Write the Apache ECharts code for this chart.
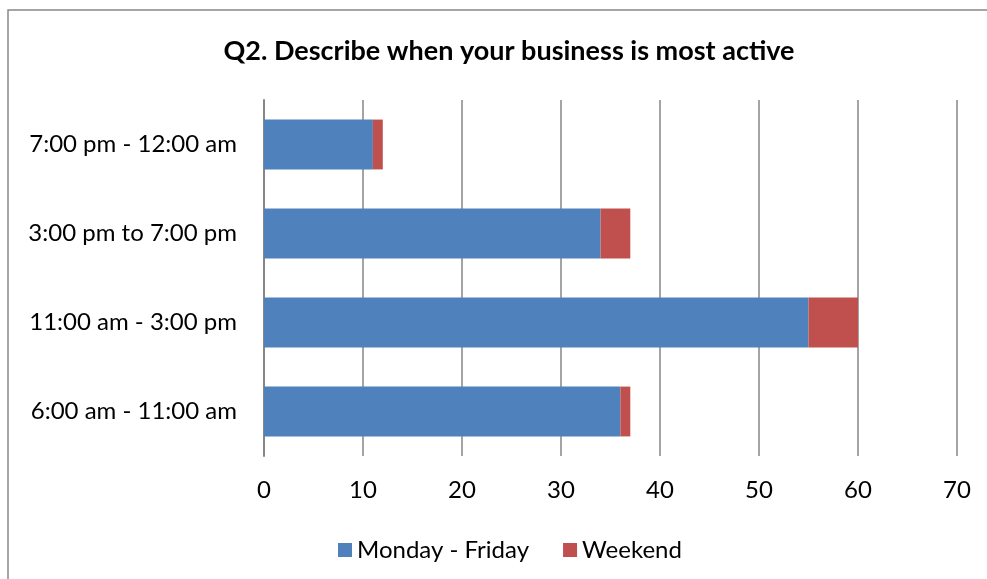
<!DOCTYPE html>
<html>
<head>
<meta charset="utf-8">
<script src="https://cdn.jsdelivr.net/npm/echarts@6/dist/echarts.min.js"></script>
<style>
  html, body { margin: 0; padding: 0; background: #fff; }
  #chart { width: 987px; height: 579px; }
</style>
</head>
<body>
<div id="chart"></div>
<script>
const categories = ['6:00 am - 11:00 am', '11:00 am - 3:00 pm', '3:00 pm to 7:00 pm', '7:00 pm - 12:00 am']
const weekdays = [36, 55, 34, 11]
const weekend = [1, 5, 3, 1]
const xTicks = [0, 10, 20, 30, 40, 50, 60, 70]

const font = 'Lato, "Open Sans", sans-serif'
const gridGray = '#868686'

let myChart = echarts.init(document.getElementById('chart'))
myChart.setOption({
  animation: false,
  textStyle: { fontFamily: font },
  graphic: [
    {
      type: 'rect',
      shape: { x: 8, y: 10, width: 1000, height: 600 },
      style: { fill: 'none', stroke: '#888888', lineWidth: 1.5 },
      silent: true
    }
  ],
  title: {
    text: 'Q2. Describe when your business is most active',
    left: 504,
    top: 33,
    textAlign: 'center',
    textStyle: {
      fontFamily: font,
      fontSize: 27,
      fontWeight: 'bold',
      color: '#000'
    }
  },
  grid: {
    left: 264,
    right: 30,
    top: 100,
    bottom: 123,
    containLabel: false
  },
  legend: {
    left: 333,
    top: 533,
    itemWidth: 14,
    itemHeight: 14,
    itemGap: 34,
    icon: 'rect',
    textStyle: { fontFamily: font, fontSize: 24, color: '#000' },
    data: ['Monday - Friday', 'Weekend']
  },
  xAxis: {
    type: 'value',
    min: xTicks[0],
    max: xTicks[xTicks.length - 1],
    interval: 10,
    axisLine: { show: false },
    axisTick: { show: false },
    axisLabel: {
      margin: 22,
      fontFamily: font,
      fontSize: 24,
      color: '#000'
    },
    splitLine: {
      lineStyle: { color: gridGray, width: 1.5 }
    }
  },
  yAxis: {
    type: 'category',
    data: categories,
    axisLine: {
      lineStyle: { color: gridGray, width: 2 }
    },
    axisTick: { show: false },
    axisLabel: {
      margin: 27,
      fontFamily: font,
      fontSize: 24,
      color: '#000'
    }
  },
  series: [
    {
      name: 'Monday - Friday',
      type: 'bar',
      stack: 'total',
      data: weekdays,
      barCategoryGap: '44%',
      itemStyle: { color: '#4F81BD' }
    },
    {
      name: 'Weekend',
      type: 'bar',
      stack: 'total',
      data: weekend,
      barCategoryGap: '44%',
      itemStyle: { color: '#C0504D' }
    }
  ]
})
</script>
</body>
</html>
